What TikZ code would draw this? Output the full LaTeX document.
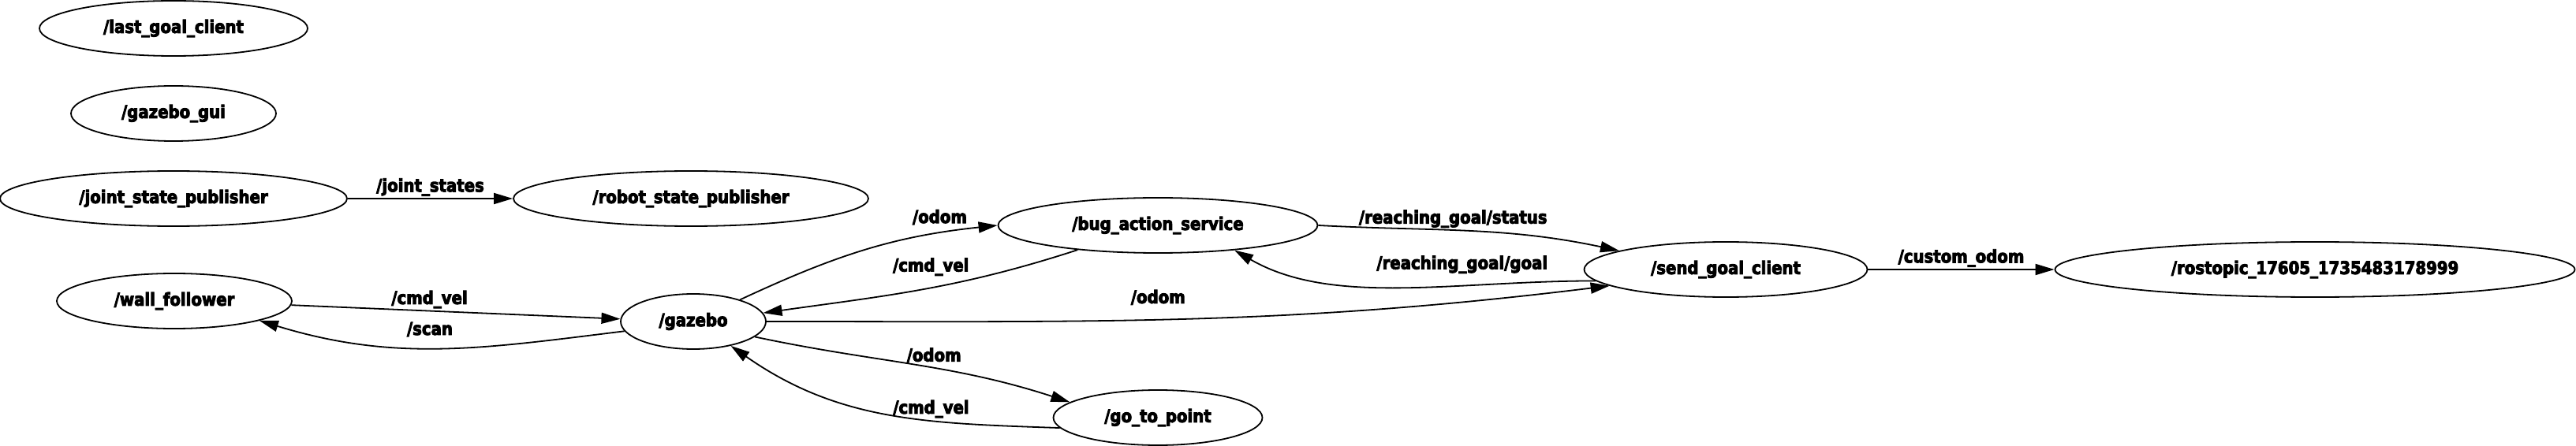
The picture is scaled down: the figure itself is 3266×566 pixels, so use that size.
\documentclass[tikz,border=0pt]{standalone}
\usepackage{fontspec}
\newfontfamily\rosfont{DejaVu Sans}[FakeStretch=0.88,FakeBold=4]
\usetikzlibrary{arrows.meta,shapes.geometric}

\begin{document}
\begin{tikzpicture}[x=0.25pt,y=0.25pt,line width=0.45pt,
  rosnode/.style={draw,ellipse,inner sep=0pt,minimum height=17.5pt,
    font=\rosfont\bfseries\fontsize{5.6pt}{6.5pt}\selectfont},
  topic/.style={above,inner sep=0.25pt,text height=4.3pt,text depth=1.7pt,
    font=\rosfont\bfseries\fontsize{5.6pt}{6.5pt}\selectfont},
  pub/.style={-{Triangle[length=6pt,width=3.5pt]}}]
  \useasboundingbox (0,0) rectangle (3266,-566);

  \node[rosnode,minimum width=85pt] (lgc) at (220,-36) {/last\_goal\_client};
  \node[rosnode,minimum width=65pt] (ggui) at (220,-144) {/gazebo\_gui};
  \node[rosnode,minimum width=110pt] (jsp) at (220,-252) {/joint\_state\_publisher};
  \node[rosnode,minimum width=112.5pt] (rsp) at (876,-252) {/robot\_state\_publisher};
  \node[rosnode,minimum width=74.5pt] (wf) at (221,-382) {/wall\_follower};
  \node[rosnode,minimum width=46pt] (gz) at (879,-408) {/gazebo};
  \node[rosnode,minimum width=101.25pt] (bas) at (1468,-286) {/bug\_action\_service};
  \node[rosnode,minimum width=66.25pt] (gtp) at (1468,-530) {/go\_to\_point};
  \node[rosnode,minimum width=89.75pt] (sgc) at (2188,-342) {/send\_goal\_client};
  \node[rosnode,minimum width=164.75pt] (rt) at (2935,-342) {/rostopic\_17605\_1735483178999};

  \draw[pub] (jsp) -- node[topic]{/joint\_states} (rsp);
  \draw[pub] (wf.-2) -- node[topic,pos=.42]{/cmd\_vel} (gz.178);
  \draw[pub] (gz.188) to[out=187,in=-17] node[topic,pos=.53,yshift=2pt]{/scan} (wf.-13);

  \draw[pub] (gz.25) to[out=25,in=186] node[topic,pos=.8,yshift=1pt]{/odom} (bas.west);
  \draw[pub] (bas.197) to[out=198,in=8] node[topic,pos=.47,yshift=3pt]{/cmd\_vel} (gz.7);
  \draw[pub] (gz.east) to[out=0,in=187] node[topic,pos=.46,yshift=3pt]{/odom} (sgc.188);
  \draw[pub] (gz.-14) to[out=-12,in=162] node[topic,pos=.57]{/odom} (gtp.170);
  \draw[pub] (gtp.186) to[out=178,in=-35] node[topic,pos=.36]{/cmd\_vel} (gz.-33);

  \draw[pub] (bas.east) to[out=-3,in=168] node[topic,pos=.44]{/reaching\_goal/status} (sgc.170);
  \draw[pub] (sgc.185) to[out=180,in=-30,in looseness=.8] node[topic,pos=.33,yshift=3pt]{/reaching\_goal/goal} (bas.-18);
  \draw[pub] (sgc) -- node[topic]{/custom\_odom} (rt);
\end{tikzpicture}
\end{document}
